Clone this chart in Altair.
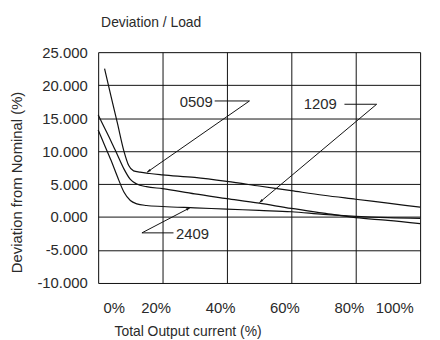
import math
import altair as alt
import pandas as pd

# ---- data ----
x_0509 = [2, 4, 6, 8, 9.5, 11, 13, 16, 20, 30, 40, 50, 60, 70, 80, 90, 100]
y_0509 = [22.5, 18.3, 14.2, 10.0, 7.8, 7.0, 6.8, 6.6, 6.4, 6.0, 5.4, 4.7, 4.0, 3.3, 2.7, 2.1, 1.5]

x_1209 = [0, 2, 4, 6, 8, 10, 12, 15, 20, 30, 40, 50, 60, 70, 80, 90, 100]
y_1209 = [15.5, 13.5, 11.5, 9.4, 7.3, 5.7, 5.0, 4.6, 4.3, 3.5, 2.8, 2.1, 1.3, 0.6, -0.1, -0.5, -1.0]

x_2409 = [0, 2, 4, 6, 8, 10, 12, 15, 20, 30, 40, 50, 60, 70, 80, 90, 100]
y_2409 = [13.2, 10.9, 8.6, 6.1, 3.8, 2.5, 2.0, 1.75, 1.6, 1.4, 1.2, 1.0, 0.8, 0.4, 0.1, -0.1, -0.2]

label_text = ["0509", "1209", "2409"]
label_x = [30.5, 69.0, 29.3]
label_y = [17.5, 17.1, -2.6]

# leader lines: end of horizontal stub, corner, arrow head
stub_x = [36.2, 76.5, 23.4]
corner_x = [47.0, 86.5, 13.6]
corner_y = [17.6, 17.1, -2.4]
head_x = [15.2, 50.1, 28.5]
head_y = [6.8, 2.2, 1.4]

x_ticks = [0, 20, 40, 60, 80, 100]
y_ticks = [-10, -5, 0, 5, 10, 15, 20, 25]

W, H = 325, 233
X_DOM = [0, 100]
Y_DOM = [-10, 25]
FONT = "Liberation Sans"
TXT = "#2a2a2a"

rows = []
for name, xs_, ys_ in (("0509", x_0509, y_0509), ("1209", x_1209, y_1209), ("2409", x_2409, y_2409)):
    for a, b in zip(xs_, ys_):
        rows.append({"series": name, "x": a, "y": b})
df = pd.DataFrame(rows)

segs = []
for i in range(3):
    segs.append({"x": stub_x[i], "y": corner_y[i], "x2": corner_x[i], "y2": corner_y[i]})
    segs.append({"x": corner_x[i], "y": corner_y[i], "x2": head_x[i], "y2": head_y[i]})
seg_df = pd.DataFrame(segs)

sx = W / (X_DOM[1] - X_DOM[0])
sy = H / (Y_DOM[1] - Y_DOM[0])
heads = []
for i in range(3):
    dx = (head_x[i] - corner_x[i]) * sx
    dy = -(head_y[i] - corner_y[i]) * sy
    ang = math.degrees(math.atan2(dx, -dy)) % 360
    heads.append({"x": head_x[i], "y": head_y[i], "angle": ang})
head_df = pd.DataFrame(heads)

lab_df = pd.DataFrame({"t": label_text, "x": label_x, "y": label_y})

xs = alt.Scale(domain=X_DOM, nice=False, zero=False)
ys = alt.Scale(domain=Y_DOM, nice=False, zero=False)

x_axis = alt.Axis(
    values=x_ticks, labelExpr="datum.value + '%'", grid=True, ticks=False, domain=False,
    gridColor="#111", gridOpacity=1, gridWidth=1, labelOverlap=False,
    labelFont=FONT, labelFontSize=15, labelColor=TXT, labelPadding=18,
    labelOffset={"condition": {"test": "datum.value == 0", "value": 5}, "value": -7},
    title="Total Output current (%)", titleFont=FONT, titleFontSize=14, titleFontWeight="normal",
    titleColor=TXT, titleAnchor="start", titleAlign="left", titleX=16, titleY=49,
    titleBaseline="middle",
)
y_axis = alt.Axis(
    values=y_ticks, grid=True, ticks=False, domain=False, labelOverlap=False,
    labelExpr="replace(format(datum.value, '.3f'), '\u2212', '-')",
    gridColor="#111", gridOpacity=1, gridWidth=1,
    labelFont=FONT, labelFontSize=15, labelColor=TXT, labelPadding=11,
    title="Deviation from Nominal (%)", titleFont=FONT, titleFontSize=15, titleFontWeight="normal",
    titleColor=TXT, titleAngle=270, titleAlign="center", titleBaseline="middle",
    titleX=-82, titleY=131,
)

X = alt.X("x:Q", scale=xs, axis=x_axis)
Y = alt.Y("y:Q", scale=ys, axis=y_axis)

lines = alt.Chart(df).mark_line(color="#111", strokeWidth=1.2, interpolate="monotone").encode(
    x=X, y=Y, detail="series:N",
)

leaders = alt.Chart(seg_df).mark_rule(color="#111", strokeWidth=1).encode(
    x=X, y=Y, x2="x2:Q", y2="y2:Q"
)

arrows = alt.Chart(head_df).mark_point(
    shape="M0,0 L0.35,1 L-0.35,1 Z", filled=True, color="#111", opacity=1, size=60
).encode(
    x=X, y=Y, angle=alt.Angle("angle:Q", scale=None)
)

labels = alt.Chart(lab_df).mark_text(
    font=FONT, fontSize=15, color=TXT, align="center", baseline="middle"
).encode(x=X, y=Y, text="t:N")

chart = alt.layer(lines, leaders, arrows, labels).properties(
    width=W, height=H,
    title=alt.TitleParams("Deviation / Load", anchor="start", frame="group", font=FONT, fontSize=14,
                          fontWeight="normal", color=TXT, baseline="alphabetic", offset=4, dx=3),
    autosize=alt.AutoSizeParams(type="none"),
    padding={"left": 91, "top": 43, "right": 12, "bottom": 58},
).configure_view(stroke="#111", strokeWidth=1.3).configure(background="white")

chart.save("out.html", embed_options={"renderer": "svg", "actions": False})
